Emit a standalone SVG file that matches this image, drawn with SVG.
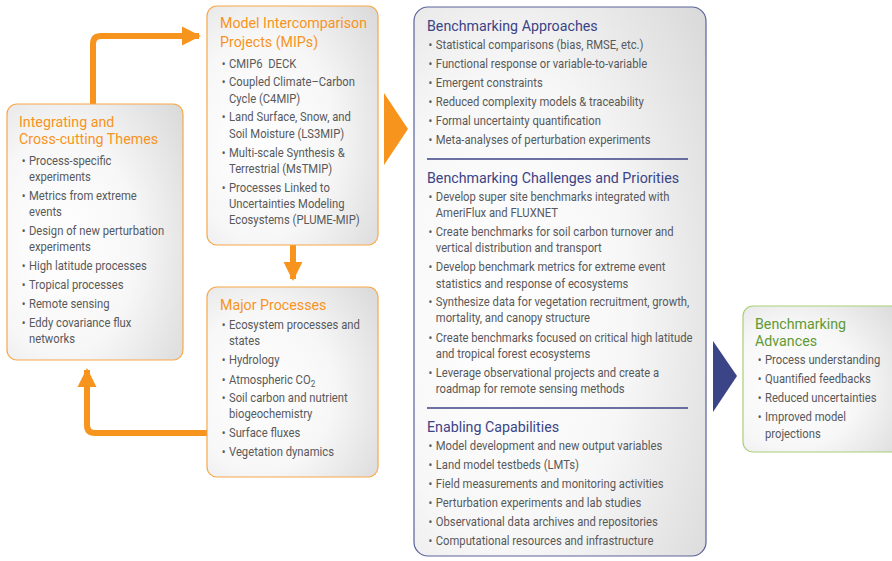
<svg xmlns="http://www.w3.org/2000/svg" width="892" height="561" viewBox="0 0 892 561">
<defs>
<radialGradient id="g" cx="0.32" cy="0.55" r="0.85" fx="0.3" fy="0.55">
<stop offset="0" stop-color="#ffffff"/>
<stop offset="0.5" stop-color="#f7f7f7"/>
<stop offset="1" stop-color="#dadadb"/>
</radialGradient>
<marker id="ah" viewBox="0 0 10 10" refX="9" refY="5" markerWidth="3.2" markerHeight="3.2" orient="auto" markerUnits="strokeWidth">
<path d="M0,0 L10,5 L0,10 Z" fill="#f7941d"/>
</marker>
<style>
.box{fill:url(#g);stroke-width:1.2}
.ob{stroke:#f7a849}
.nb{stroke:#5a6299}
.gb{stroke:#a9cf7a}
text{font-family:"Roboto","Liberation Sans",Arial,sans-serif}
.t{font-size:15px}
.to{fill:#f7941d}
.tn{fill:#3b4486}
.tg{fill:#5f9a33}
.i{font-size:12.5px;fill:#58595b}
.conn{fill:none;stroke:#f7941d;stroke-width:6}
.div{stroke:#3b4486;stroke-width:1.5}
</style>
</defs>
<g id="connectors">
<path class="conn" d="M93,104 V44 Q93,36 101,36 H199" marker-end="url(#ah)"/>
<path class="conn" d="M293,245 V279" marker-end="url(#ah)"/>
<path class="conn" d="M207,433 H95 Q87,433 87,425 V370" marker-end="url(#ah)"/>
<path d="M384,93 L408,129 L384,165 Z" fill="#f7941d"/>
<path d="M713,341 L737,376 L713,412 Z" fill="#3b4486"/>
</g>
<g id="integrating">
<rect class="box ob" x="7" y="104" width="176" height="256" rx="10"/>
<g transform="matrix(0.95,0,0,1,0.95,0)">
<text class="t to" x="19" y="127">Integrating and</text>
<text class="t to" x="19" y="144">Cross-cutting Themes</text>
</g>
<g class="i" transform="matrix(0.9,0,0,1,2.9,0)">
<text x="21" y="165">•</text><text x="29" y="165">Process-specific</text><text x="29" y="181">experiments</text>
<text x="21" y="200">•</text><text x="29" y="200">Metrics from extreme</text><text x="29" y="216">events</text>
<text x="21" y="235">•</text><text x="29" y="235">Design of new perturbation</text><text x="29" y="251">experiments</text>
<text x="21" y="270">•</text><text x="29" y="270">High latitude processes</text>
<text x="21" y="289">•</text><text x="29" y="289">Tropical processes</text>
<text x="21" y="308">•</text><text x="29" y="308">Remote sensing</text>
<text x="21" y="327">•</text><text x="29" y="327">Eddy covariance flux</text><text x="29" y="343">networks</text>
</g>
</g>
<g id="mips">
<rect class="box ob" x="207" y="6" width="171" height="239" rx="10"/>
<g transform="matrix(0.95,0,0,1,11,0)">
<text class="t to" x="220" y="28">Model Intercomparison</text>
<text class="t to" x="220" y="47">Projects (MIPs)</text>
</g>
<g class="i" transform="matrix(0.9,0,0,1,22.9,0)">
<text x="221" y="68">•</text><text x="229" y="68" xml:space="preserve">CMIP6  DECK</text>
<text x="221" y="86">•</text><text x="229" y="86">Coupled Climate–Carbon</text><text x="229" y="103">Cycle (C4MIP)</text>
<text x="221" y="121">•</text><text x="229" y="121">Land Surface, Snow, and</text><text x="229" y="138">Soil Moisture (LS3MIP)</text>
<text x="221" y="157">•</text><text x="229" y="157">Multi-scale Synthesis &amp;</text><text x="229" y="173">Terrestrial (MsTMIP)</text>
<text x="221" y="192">•</text><text x="229" y="192">Processes Linked to</text><text x="229" y="208">Uncertainties Modeling</text><text x="229" y="224">Ecosystems (PLUME-MIP)</text>
</g>
</g>
<g id="major">
<rect class="box ob" x="207" y="287" width="171" height="190" rx="10"/>
<g transform="matrix(0.95,0,0,1,11,0)">
<text class="t to" x="220" y="310">Major Processes</text>
</g>
<g class="i" transform="matrix(0.9,0,0,1,22.9,0)">
<text x="221" y="329">•</text><text x="229" y="329">Ecosystem processes and</text><text x="229" y="345">states</text>
<text x="221" y="364">•</text><text x="229" y="364">Hydrology</text>
<text x="221" y="384">•</text><text x="229" y="384">Atmospheric CO<tspan font-size="9" dy="3">2</tspan></text>
<text x="221" y="402">•</text><text x="229" y="402">Soil carbon and nutrient</text><text x="229" y="418">biogeochemistry</text>
<text x="221" y="437">•</text><text x="229" y="437">Surface fluxes</text>
<text x="221" y="456">•</text><text x="229" y="456">Vegetation dynamics</text>
</g>
</g>
<g id="benchmarking">
<rect class="box nb" x="414" y="7" width="292" height="549" rx="14"/>
<g transform="matrix(0.95,0,0,1,21.35,0)">
<text class="t tn" x="427" y="31">Benchmarking Approaches</text>
<text class="t tn" x="427" y="183">Benchmarking Challenges and Priorities</text>
<text class="t tn" x="427" y="432">Enabling Capabilities</text>
</g>
<line class="div" x1="427" y1="159" x2="688" y2="159"/>
<line class="div" x1="427" y1="408" x2="688" y2="408"/>
<g class="i" transform="matrix(0.9,0,0,1,43.4,0)">
<text x="428" y="49">•</text><text x="436" y="49">Statistical comparisons (bias, RMSE, etc.)</text>
<text x="428" y="68">•</text><text x="436" y="68">Functional response or variable-to-variable</text>
<text x="428" y="87">•</text><text x="436" y="87">Emergent constraints</text>
<text x="428" y="106">•</text><text x="436" y="106">Reduced complexity models &amp; traceability</text>
<text x="428" y="125">•</text><text x="436" y="125">Formal uncertainty quantification</text>
<text x="428" y="144">•</text><text x="436" y="144">Meta-analyses of perturbation experiments</text>
<text x="428" y="201">•</text><text x="436" y="201">Develop super site benchmarks integrated with</text><text x="436" y="217">AmeriFlux and FLUXNET</text>
<text x="428" y="236">•</text><text x="436" y="236">Create benchmarks for soil carbon turnover and</text><text x="436" y="252">vertical distribution and transport</text>
<text x="428" y="271">•</text><text x="436" y="271">Develop benchmark metrics for extreme event</text><text x="436" y="288">statistics and response of ecosystems</text>
<text x="428" y="306">•</text><text x="436" y="306">Synthesize data for vegetation recruitment, growth,</text><text x="436" y="322">mortality, and canopy structure</text>
<text x="428" y="342">•</text><text x="436" y="342">Create benchmarks focused on critical high latitude</text><text x="436" y="358">and tropical forest ecosystems</text>
<text x="428" y="377">•</text><text x="436" y="377">Leverage observational projects and create a</text><text x="436" y="393">roadmap for remote sensing methods</text>
<text x="428" y="450">•</text><text x="436" y="450">Model development and new output variables</text>
<text x="428" y="469">•</text><text x="436" y="469">Land model testbeds (LMTs)</text>
<text x="428" y="488">•</text><text x="436" y="488">Field measurements and monitoring activities</text>
<text x="428" y="507">•</text><text x="436" y="507">Perturbation experiments and lab studies</text>
<text x="428" y="526">•</text><text x="436" y="526">Observational data archives and repositories</text>
<text x="428" y="545">•</text><text x="436" y="545">Computational resources and infrastructure</text>
</g>
</g>
<g id="advances">
<rect class="box gb" x="743" y="306" width="160" height="146" rx="10"/>
<g transform="matrix(0.95,0,0,1,37.75,0)">
<text class="t tg" x="755" y="329">Benchmarking</text>
<text class="t tg" x="755" y="346">Advances</text>
</g>
<g class="i" transform="matrix(0.9,0,0,1,76.5,0)">
<text x="757" y="364">•</text><text x="765" y="364">Process understanding</text>
<text x="757" y="383">•</text><text x="765" y="383">Quantified feedbacks</text>
<text x="757" y="402">•</text><text x="765" y="402">Reduced uncertainties</text>
<text x="757" y="421">•</text><text x="765" y="421">Improved model</text><text x="765" y="438">projections</text>
</g>
</g>
</svg>
